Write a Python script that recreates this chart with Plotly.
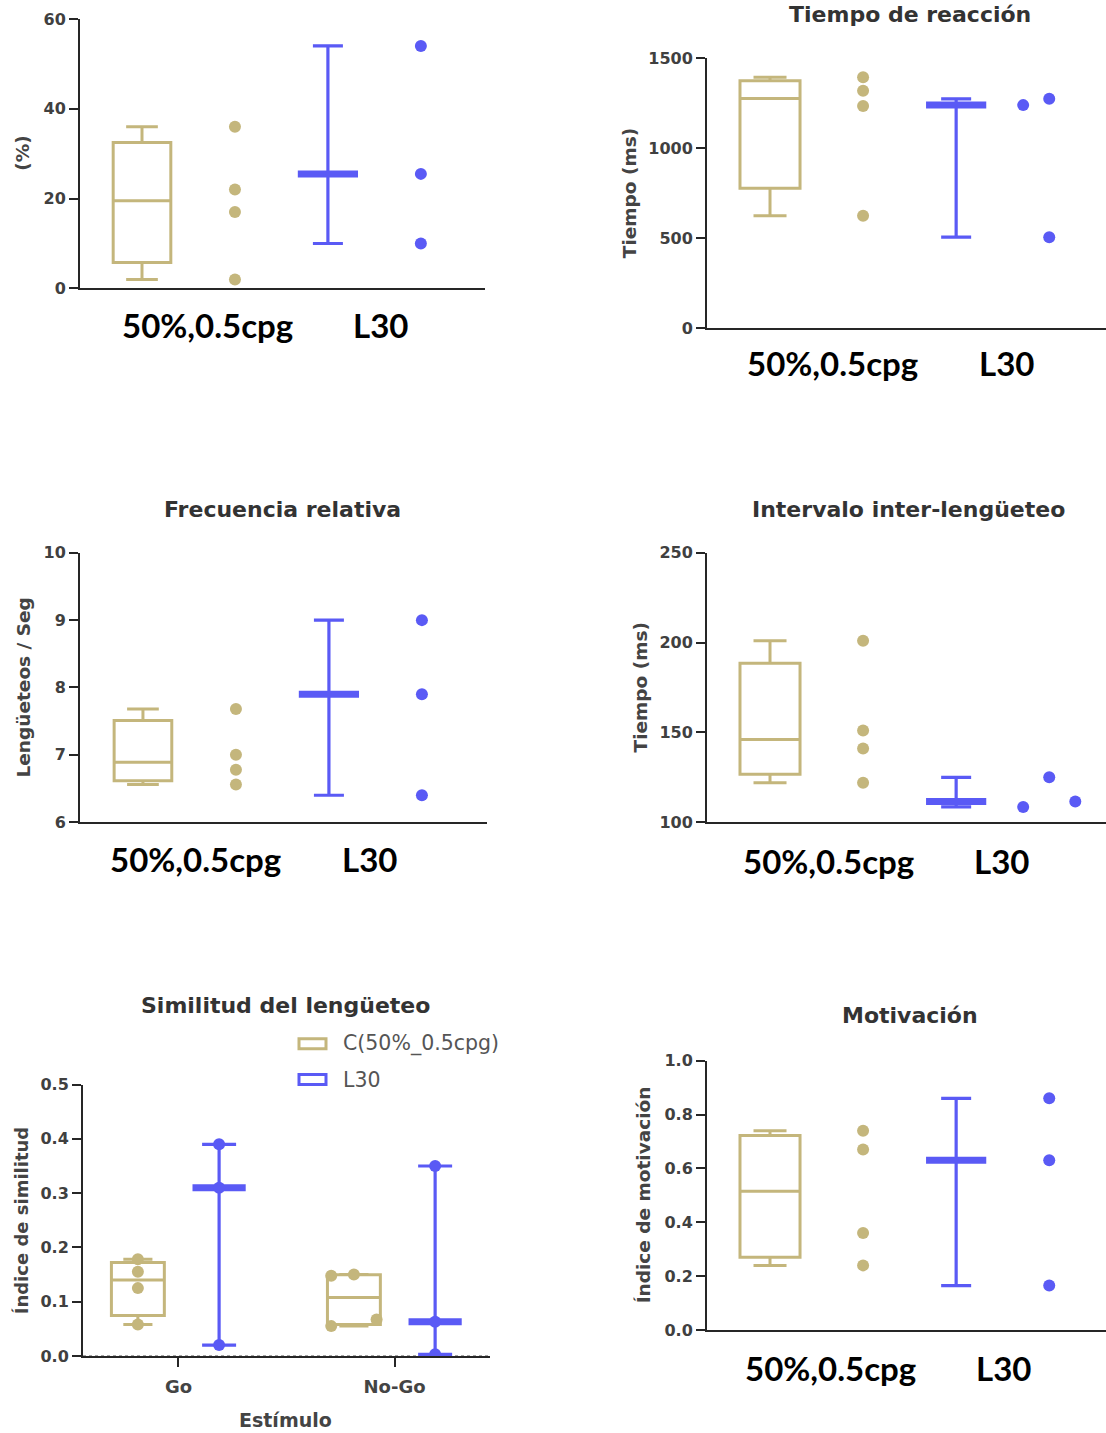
import numpy as np
import plotly.graph_objects as go

W, H = 1106, 1433

# ---------------- data ----------------
groups = ["50%,0.5cpg", "L30"]

# Panel A: (%)
pct_c = [36.0, 22.0, 17.0, 2.0]
pct_l = [54.0, 25.5, 10.0]

# Panel B: Tiempo de reacción (ms)
rt_c = [1395, 1320, 1235, 625]
rt_l = [1240, 1275, 505]

# Panel C: Frecuencia relativa (Lengüeteos / Seg)
fr_c = [7.68, 7.0, 6.78, 6.56]
fr_l = [9.0, 7.9, 6.4]

# Panel D: Intervalo inter-lengüeteo (ms)
ili_c = [201, 151, 141, 122]
ili_l = [108.5, 125, 111.5]

# Panel E: Similitud del lengüeteo
stimuli = ["Go", "No-Go"]
sim_c_go = [0.178, 0.155, 0.125, 0.058]
sim_c_nogo = [0.148, 0.150, 0.055, 0.067]
sim_l_go = [0.39, 0.31, 0.02]
sim_l_nogo = [0.35, 0.063, 0.003]
legend_names = ["C(50%_0.5cpg)", "L30"]

# Panel F: Motivación
mot_c = [0.74, 0.67, 0.36, 0.24]
mot_l = [0.86, 0.63, 0.165]

# ---------------- styles ----------------
TAN = "#C4B67C"
BLUE = "#5A5AF5"
AX = "#262626"
TICKC = "#404040"
FONT = "DejaVu Sans"

fig = go.Figure()


def Y(px):
    """pixel row in the target picture -> pixel row in the figure (page margin compensation)"""
    return (px - 8.0) / (1433.0 / 1449.0)


def dom_x(a, b):
    return [a / W, b / W]


def dom_y(top, bottom):
    return [1 - Y(bottom) / H, 1 - Y(top) / H]


def gp_quantile(vals, p):
    """Quantile with (n+1)p position (GraphPad style)."""
    s = np.sort(np.asarray(vals, dtype=float))
    n = len(s)
    pos = (n + 1) * p
    if pos <= 1:
        return float(s[0])
    if pos >= n:
        return float(s[-1])
    lo = int(np.floor(pos))
    frac = pos - lo
    return float(s[lo - 1] + frac * (s[lo] - s[lo - 1]))


panels = {
    1: dict(x=(80, 485), y=(18, 288), rng=[0, 60], dtick=20, fmt="d", title=None, ytitle="(%)",
            c=pct_c, l=pct_l, xr=[-0.667, 3.69], lab=[0.70, 2.57], laby=325,
            loff=[0, 0, 0], bw=0.62, ytx=23),
    2: dict(x=(707, 1106), y=(57.5, 327.7), rng=[0, 1500], dtick=500, fmt="d", title="Tiempo de reacción",
            ytitle="Tiempo (ms)", c=rt_c, l=rt_l, xr=[-0.677, 3.61], lab=[0.67, 2.54], laby=363,
            loff=[-0.28, 0, 0], bw=0.645, ttl=(910, 14), ytx=629),
    3: dict(x=(80, 487), y=(553, 823), rng=[6, 10], dtick=1, fmt="d", title="Frecuencia relativa",
            ytitle="Lengüeteos / Seg", c=fr_c, l=fr_l, xr=[-0.677, 3.70], lab=[0.56, 2.44], laby=860,
            loff=[0, 0, 0], bw=0.62, ttl=(282, 510), ytx=23),
    4: dict(x=(707, 1106), y=(553, 823), rng=[100, 250], dtick=50, fmt="d", title="Intervalo inter-lengüeteo",
            ytitle="Tiempo (ms)", c=ili_c, l=ili_l, xr=[-0.677, 3.61], lab=[0.63, 2.49], laby=862,
            loff=[-0.28, 0, 0.28], bw=0.645, ttl=(908, 510), ytx=640),
    6: dict(x=(707, 1106), y=(1062, 1332), rng=[0, 1.0], dtick=0.2, fmt=".1f", title="Motivación",
            ytitle="Índice de motivación", c=mot_c, l=mot_l, xr=[-0.677, 3.61], lab=[0.65, 2.51], laby=1370,
            loff=[0, 0, 0], bw=0.645, ttl=(910, 1017), ytx=643),
}

annotations = []
shapes = []


def axis_common():
    return dict(showline=True, linecolor=AX, linewidth=2, showgrid=False, zeroline=False, mirror=False)


def ytick_axis(rng, dtick, fmt):
    return dict(range=rng, dtick=dtick, tick0=rng[0], tickformat=fmt, ticks="outside", ticklen=9,
                tickwidth=2, tickcolor=AX, fixedrange=True,
                tickfont=dict(family=FONT, size=16, color=TICKC, weight="bold"), **axis_common())


def control_box(xa, ya, pos, vals, width):
    vals = np.asarray(vals, dtype=float)
    fig.add_trace(go.Box(
        x=[pos], q1=[gp_quantile(vals, 0.25)], median=[float(np.median(vals))],
        q3=[gp_quantile(vals, 0.75)], lowerfence=[float(vals.min())], upperfence=[float(vals.max())],
        xaxis=xa, yaxis=ya, width=width, boxpoints=False, fillcolor="rgba(0,0,0,0)",
        line=dict(color=TAN, width=3), whiskerwidth=0.55, showlegend=False, hoverinfo="skip"))


def median_range(xa, ya, pos, vals, bar_size=43, cap=15):
    vals = np.asarray(vals, dtype=float)
    med = float(np.median(vals))
    lo, hi = float(vals.min()), float(vals.max())
    fig.add_trace(go.Scatter(
        x=[pos], y=[med], xaxis=xa, yaxis=ya, mode="markers",
        marker=dict(symbol="line-ew", size=bar_size, color=BLUE, line=dict(color=BLUE, width=7)),
        error_y=dict(type="data", symmetric=False, array=[hi - med], arrayminus=[med - lo],
                     color=BLUE, thickness=3.2, width=cap),
        showlegend=False, hoverinfo="skip"))


def text_ann(x, y, text, size, color, family=FONT, angle=0, xanchor="center"):
    annotations.append(dict(x=x / W, xref="paper", y=1 - Y(y) / H, yref="paper", text=text,
                            textangle=angle, showarrow=False, xanchor=xanchor, yanchor="middle",
                            font=dict(family=family, size=size, color=color)))


for i, (k, p) in enumerate(panels.items()):
    idx = i + 1
    xa = "x" if idx == 1 else f"x{idx}"
    ya = "y" if idx == 1 else f"y{idx}"
    xl = "xaxis" if idx == 1 else f"xaxis{idx}"
    yl = "yaxis" if idx == 1 else f"yaxis{idx}"
    fig.layout[xl] = dict(domain=dom_x(*p["x"]), range=p["xr"], anchor=ya, showticklabels=False,
                          ticks="", fixedrange=True, **axis_common())
    fig.layout[yl] = dict(domain=dom_y(*p["y"]), anchor=xa, **ytick_axis(p["rng"], p["dtick"], p["fmt"]))

    control_box(xa, ya, 0, p["c"], p["bw"])
    fig.add_trace(go.Scatter(x=[1] * len(p["c"]), y=p["c"], xaxis=xa, yaxis=ya, mode="markers",
                             marker=dict(color=TAN, size=12), showlegend=False, hoverinfo="skip"))
    median_range(xa, ya, 2, p["l"])
    fig.add_trace(go.Scatter(x=[3 + o for o in p["loff"]], y=p["l"], xaxis=xa, yaxis=ya, mode="markers",
                             marker=dict(color=BLUE, size=12), showlegend=False, hoverinfo="skip"))
    for gx, g in zip(p["lab"], groups):
        annotations.append(dict(x=gx, xref=xa, y=1 - Y(p["laby"]) / H, yref="paper", text=f"<b>{g}</b>",
                                showarrow=False, font=dict(family="Lato", size=33, color="black"),
                                xanchor="center", yanchor="middle"))
    if p["title"]:
        text_ann(p["ttl"][0], p["ttl"][1], f"<b>{p['title']}</b>", 22, "#333333")
    text_ann(p["ytx"], (p["y"][0] + p["y"][1]) / 2, f"<b>{p['ytitle']}</b>", 18.5, "#444444", angle=-90)

# ---------------- Panel E (similitud) ----------------
xa, ya = "x6", "y6"
fig.layout["xaxis6"] = dict(domain=dom_x(83, 490), range=[-0.442, 1.442], anchor=ya,
                            tickvals=[0, 1], ticktext=stimuli, ticks="outside", ticklen=9, tickwidth=2,
                            tickcolor=AX, tickfont=dict(family=FONT, size=18, color="#444444", weight="bold"),
                            ticklabelstandoff=4, fixedrange=True, **axis_common())
fig.layout["yaxis6"] = dict(domain=dom_y(1086, 1358), anchor=xa, **ytick_axis([0, 0.5], 0.1, ".1f"))

OFF = 0.188
c_sets = [sim_c_go, sim_c_nogo]
l_sets = [sim_l_go, sim_l_nogo]
c_dot_off = [[0, 0, 0, 0], [-0.105, 0, -0.105, 0.105]]
for gi in range(2):
    control_box(xa, ya, gi - OFF, c_sets[gi], 0.245)
    fig.add_trace(go.Scatter(x=[gi - OFF + o for o in c_dot_off[gi]], y=c_sets[gi], xaxis=xa, yaxis=ya,
                             mode="markers", marker=dict(color=TAN, size=12), showlegend=False,
                             hoverinfo="skip"))
    median_range(xa, ya, gi + OFF, l_sets[gi], bar_size=38, cap=17)
    fig.add_trace(go.Scatter(x=[gi + OFF] * len(l_sets[gi]), y=l_sets[gi], xaxis=xa, yaxis=ya,
                             mode="markers", marker=dict(color=BLUE, size=12), showlegend=False,
                             hoverinfo="skip"))

shapes.append(dict(type="line", xref="x6 domain", yref=ya, x0=0, x1=1, y0=0, y1=0,
                   line=dict(color="#888888", width=1.5, dash="dot"), layer="below"))

text_ann(285, 1007, "<b>Similitud del lengüeteo</b>", 22, "#333333")
text_ann(285, 1422, "<b>Estímulo</b>", 19, "#444444")
text_ann(21, 1222, "<b>Índice de similitud</b>", 18, "#444444", angle=-90)

for li, (nm, col) in enumerate(zip(legend_names, [TAN, BLUE])):
    cy = 1045 + li * 36
    shapes.append(dict(type="rect", xref="paper", yref="paper", x0=299 / W, x1=326 / W,
                       y0=1 - Y(cy + 5) / H, y1=1 - Y(cy - 5) / H, line=dict(color=col, width=3),
                       fillcolor="white"))
    text_ann(341, cy, nm, 20.5, "#555555", xanchor="left")

fig.update_layout(width=W, height=H, margin=dict(l=0, r=0, t=0, b=0),
                  paper_bgcolor="white", plot_bgcolor="white", showlegend=False,
                  annotations=annotations, shapes=shapes)

post = (
    "document.documentElement.style.margin='0';document.documentElement.style.padding='0';"
    "document.documentElement.style.overflow='hidden';"
    "document.body.style.margin='0';document.body.style.padding='0';document.body.style.overflow='hidden';"
    "var gd=document.getElementById('{plot_id}');gd.style.position='fixed';gd.style.top='0px';"
    "gd.style.left='0px';"
)
fig.write_html("out.html", config={"displayModeBar": False, "responsive": False}, post_script=post)
